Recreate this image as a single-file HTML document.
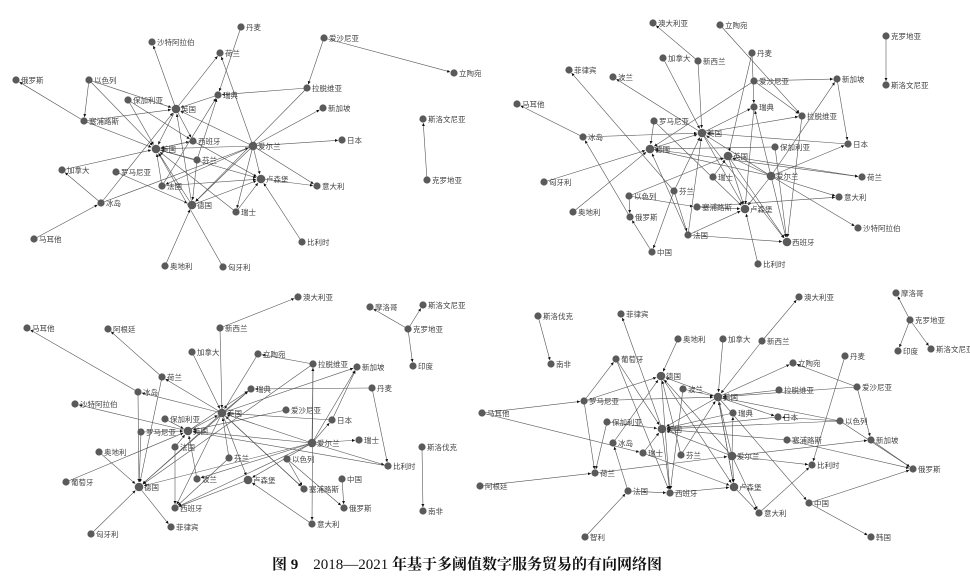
<!DOCTYPE html>
<html><head><meta charset="utf-8"><style>
body{margin:0;background:#fff}
svg{display:block}
text{font-family:"Liberation Sans","Noto Sans CJK SC",sans-serif;font-size:7.5px;fill:#444}
.t{font-family:"Liberation Serif","Noto Serif CJK SC",serif;font-size:15px;fill:#111}
</style></head><body>
<svg id="s" width="970" height="584" viewBox="0 0 970 584" xmlns="http://www.w3.org/2000/svg">
<defs><marker id="a" viewBox="0 0 10 10" refX="10" refY="5" markerWidth="5" markerHeight="5" orient="auto"><path d="M0,0L10,5L0,10z" fill="#111"/></marker></defs>
<g id="e" stroke="#555" stroke-width="0.6" fill="none"></g>
<g id="n"></g>
<text class="t" x="272" y="569"><tspan font-weight="bold">图 9</tspan>　2018—2021 <tspan font-weight="bold">年基于多阈值数字服务贸易的有向网络图</tspan></text>
</svg>
<script>
const Q=[
[{丹麦:[241,27],沙特阿拉伯:[152,42],荷兰:[220,53],爱沙尼亚:[324,38],立陶宛:[454,73],俄罗斯:[16,80],以色列:[89,80],保加利亚:[128,100],瑞典:[218,95],拉脱维亚:[307,88],英国:[176,109],新加坡:[323,108],塞浦路斯:[84,121],斯洛文尼亚:[423,119],西班牙:[193,141],美国:[156,149],爱尔兰:[253,146],日本:[342,140],芬兰:[197,160],加拿大:[62,170],罗马尼亚:[116,172],卢森堡:[261,179],意大利:[317,186],克罗地亚:[427,180],法国:[162,186],冰岛:[101,203],德国:[192,205],瑞士:[236,212],马耳他:[34,239],比利时:[302,242],奥地利:[165,266],匈牙利:[223,267]},
"丹麦>瑞典 爱沙尼亚>立陶宛 爱沙尼亚>拉脱维亚 塞浦路斯>俄罗斯 以色列>塞浦路斯 以色列>英国 以色列>美国 保加利亚>美国 保加利亚>西班牙 塞浦路斯>英国 塞浦路斯>美国 英国>沙特阿拉伯 英国>美国 英国>荷兰 瑞典>英国 拉脱维亚>瑞典 拉脱维亚>德国 爱尔兰>新加坡 爱尔兰>日本 爱尔兰>意大利 爱尔兰>卢森堡 爱尔兰>英国 爱尔兰>美国 爱尔兰>荷兰 爱尔兰>德国 爱尔兰>瑞士 爱尔兰>法国 美国>西班牙 英国>西班牙 西班牙>卢森堡 卢森堡>意大利 比利时>卢森堡 法国>卢森堡 法国>美国 法国>瑞典 德国>卢森堡 德国>美国 瑞士>美国 瑞士>卢森堡 芬兰>德国 芬兰>美国 芬兰>瑞典 罗马尼亚>德国 加拿大>美国 冰岛>加拿大 马耳他>冰岛 冰岛>英国 冰岛>爱尔兰 奥地利>德国 匈牙利>美国 克罗地亚>斯洛文尼亚 德国>英国 美国>卢森堡 西班牙>美国",["美国","英国","爱尔兰","卢森堡","德国"]],
[{澳大利亚:[653,23],立陶宛:[720,25],克罗地亚:[886,36],丹麦:[752,53],加拿大:[663,58],新西兰:[698,61],菲律宾:[569,70],波兰:[613,77],爱沙尼亚:[754,81],新加坡:[837,79],斯洛文尼亚:[886,85],马耳他:[517,104],瑞典:[754,107],拉脱维亚:[802,116],罗马尼亚:[654,121],美国:[702,133],冰岛:[583,137],日本:[848,144],德国:[650,149],保加利亚:[775,147],英国:[728,156],瑞士:[713,177],爱尔兰:[771,176],荷兰:[862,177],匈牙利:[544,182],芬兰:[674,191],以色列:[629,196],意大利:[839,197],塞浦路斯:[697,207],卢森堡:[745,209],奥地利:[573,212],俄罗斯:[630,217],沙特阿拉伯:[858,228],法国:[688,235],西班牙:[787,242],中国:[652,252],比利时:[758,264]},
"新西兰>澳大利亚 立陶宛>拉脱维亚 克罗地亚>斯洛文尼亚 丹麦>瑞典 爱沙尼亚>新加坡 爱沙尼亚>拉脱维亚 新加坡>日本 美国>波兰 芬兰>菲律宾 冰岛>马耳他 加拿大>美国 新西兰>美国 罗马尼亚>德国 罗马尼亚>卢森堡 冰岛>美国 日本>美国 德国>荷兰 美国>瑞典 美国>拉脱维亚 美国>西班牙 美国>卢森堡 英国>荷兰 英国>卢森堡 英国>西班牙 爱尔兰>英国 爱尔兰>美国 爱尔兰>德国 爱尔兰>日本 爱尔兰>新加坡 爱尔兰>意大利 爱尔兰>沙特阿拉伯 爱尔兰>西班牙 爱尔兰>卢森堡 爱尔兰>瑞典 保加利亚>西班牙 瑞士>英国 芬兰>美国 芬兰>中国 芬兰>法国 以色列>俄罗斯 以色列>塞浦路斯 塞浦路斯>意大利 塞浦路斯>卢森堡 中国>俄罗斯 俄罗斯>冰岛 匈牙利>德国 奥地利>德国 法国>西班牙 法国>卢森堡 法国>德国 比利时>卢森堡 丹麦>英国 爱沙尼亚>德国 瑞典>卢森堡 拉脱维亚>西班牙 德国>美国 法国>美国 以色列>英国 保加利亚>德国",["美国","英国","爱尔兰","卢森堡","德国","西班牙"]],
[{澳大利亚:[298,297],摩洛哥:[370,307],斯洛文尼亚:[423,305],马耳他:[27,328],阿根廷:[108,329],新西兰:[220,328],克罗地亚:[408,329],加拿大:[192,352],立陶宛:[258,354],拉脱维亚:[313,364],新加坡:[357,367],印度:[413,366],荷兰:[162,377],丹麦:[372,388],瑞典:[251,389],冰岛:[138,392],沙特阿拉伯:[75,404],美国:[222,413],爱沙尼亚:[286,410],保加利亚:[165,419],日本:[332,420],罗马尼亚:[141,432],英国:[188,431],爱尔兰:[312,443],瑞士:[359,440],法国:[175,447],奥地利:[99,452],斯洛伐克:[422,447],芬兰:[229,458],以色列:[287,459],比利时:[388,466],葡萄牙:[66,482],波兰:[197,479],卢森堡:[248,480],中国:[342,479],德国:[139,487],塞浦路斯:[304,489],西班牙:[175,508],俄罗斯:[344,508],南非:[423,511],菲律宾:[171,527],意大利:[312,524],匈牙利:[91,534]},
"新西兰>澳大利亚 克罗地亚>摩洛哥 克罗地亚>斯洛文尼亚 克罗地亚>印度 斯洛伐克>南非 冰岛>马耳他 荷兰>阿根廷 新西兰>美国 加拿大>美国 拉脱维亚>立陶宛 拉脱维亚>意大利 美国>新加坡 丹麦>瑞典 丹麦>比利时 美国>瑞典 美国>荷兰 英国>沙特阿拉伯 美国>冰岛 爱沙尼亚>英国 日本>美国 爱尔兰>新加坡 爱尔兰>日本 爱尔兰>瑞士 爱尔兰>英国 爱尔兰>美国 爱尔兰>德国 爱尔兰>比利时 爱尔兰>卢森堡 爱尔兰>拉脱维亚 美国>德国 荷兰>德国 罗马尼亚>德国 罗马尼亚>英国 保加利亚>英国 法国>英国 法国>西班牙 德国>菲律宾 匈牙利>德国 葡萄牙>英国 奥地利>德国 芬兰>美国 以色列>俄罗斯 以色列>塞浦路斯 中国>俄罗斯 塞浦路斯>美国 意大利>卢森堡 卢森堡>西班牙 波兰>英国 美国>卢森堡 美国>塞浦路斯 立陶宛>美国 瑞典>德国 美国>西班牙 爱尔兰>波兰 比利时>英国 英国>瑞典 日本>新加坡 冰岛>德国 芬兰>西班牙 拉脱维亚>德国 爱尔兰>西班牙 英国>美国",["美国","英国","爱尔兰","德国","卢森堡"]],
[{澳大利亚:[799,297],摩洛哥:[896,293],斯洛伐克:[538,316],菲律宾:[621,314],克罗地亚:[910,320],奥地利:[678,339],加拿大:[723,339],新西兰:[762,341],印度:[898,351],斯洛文尼亚:[931,349],南非:[551,364],葡萄牙:[616,359],丹麦:[845,356],立陶宛:[793,363],德国:[661,376],波兰:[683,389],拉脱维亚:[779,390],爱沙尼亚:[857,387],美国:[718,397],罗马尼亚:[584,401],马耳他:[482,413],瑞典:[733,413],日本:[778,417],保加利亚:[607,422],以色列:[840,421],英国:[662,429],塞浦路斯:[787,440],新加坡:[871,440],冰岛:[613,443],瑞士:[643,453],芬兰:[681,455],爱尔兰:[732,456],俄罗斯:[913,469],比利时:[812,465],荷兰:[595,473],阿根廷:[480,486],法国:[628,491],西班牙:[670,493],卢森堡:[734,487],中国:[809,503],意大利:[759,513],智利:[585,537],韩国:[871,537]},
"斯洛伐克>南非 克罗地亚>摩洛哥 克罗地亚>印度 克罗地亚>斯洛文尼亚 英国>菲律宾 奥地利>德国 加拿大>美国 新西兰>澳大利亚 新西兰>美国 葡萄牙>英国 罗马尼亚>葡萄牙 罗马尼亚>荷兰 罗马尼亚>德国 罗马尼亚>美国 马耳他>罗马尼亚 马耳他>瑞士 阿根廷>荷兰 丹麦>比利时 爱沙尼亚>立陶宛 爱沙尼亚>新加坡 爱沙尼亚>美国 拉脱维亚>美国 美国>立陶宛 以色列>日本 以色列>俄罗斯 以色列>英国 塞浦路斯>俄罗斯 塞浦路斯>英国 新加坡>俄罗斯 中国>俄罗斯 中国>韩国 英国>西班牙 德国>西班牙 德国>卢森堡 波兰>美国 瑞典>英国 保加利亚>荷兰 冰岛>德国 瑞士>卢森堡 芬兰>美国 芬兰>德国 爱尔兰>美国 爱尔兰>英国 爱尔兰>德国 爱尔兰>比利时 爱尔兰>卢森堡 爱尔兰>意大利 爱尔兰>新加坡 爱尔兰>瑞典 荷兰>爱尔兰 法国>西班牙 法国>冰岛 智利>法国 意大利>比利时 卢森堡>意大利 卢森堡>美国 西班牙>卢森堡 美国>中国 美国>日本 美国>英国 日本>英国 美国>卢森堡 葡萄牙>西班牙 波兰>西班牙 美国>德国 保加利亚>英国 瑞士>英国 以色列>美国",["美国","英国","德国","卢森堡","爱尔兰"]]
];
const NS="http://www.w3.org/2000/svg",E=document.getElementById("e"),N=document.getElementById("n");
function el(t,a,p){const e=document.createElementNS(NS,t);for(const k in a)e.setAttribute(k,a[k]);p.appendChild(e);return e;}
for(const [nodes,edges,hubs] of Q){
 for(const s of edges.split(" ")){const [a,b]=s.split(">");const p=nodes[a],q=nodes[b];if(!p||!q)continue;
  const dx=q[0]-p[0],dy=q[1]-p[1],d=Math.hypot(dx,dy)||1,r=hubs.includes(b)?5:4;
  el("line",{x1:p[0],y1:p[1],x2:q[0]-dx/d*r,y2:q[1]-dy/d*r,"marker-end":"url(#a)"},E);}
 for(const k in nodes){const [x,y]=nodes[k];el("circle",{cx:x,cy:y,r:hubs.includes(k)?4.3:3.6,fill:"#5a5a5a"},N);
  const t=el("text",{x:x+5,y:y+3},N);t.textContent=k;}
}
</script>
</body></html>
